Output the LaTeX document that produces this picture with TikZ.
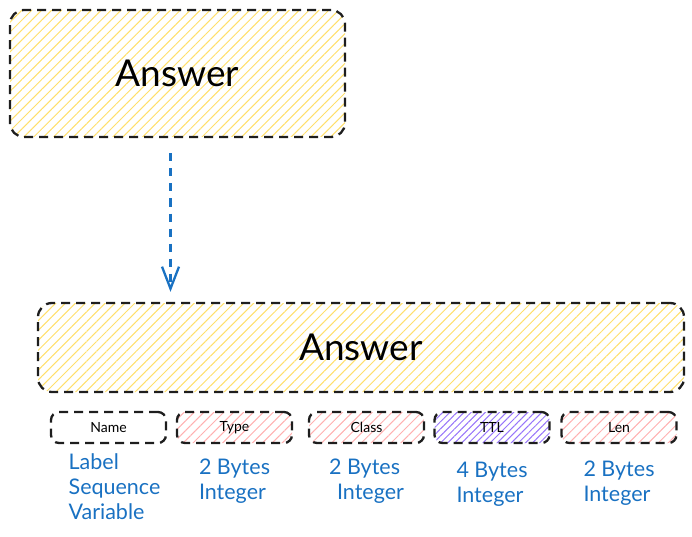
\documentclass[tikz,border=0pt]{standalone}
\usepackage{fontspec}
\setmainfont{Lato}
\usetikzlibrary{positioning,arrows.meta,patterns.meta}

\definecolor{ink}{HTML}{1E1E1E}
\definecolor{sky}{HTML}{1971C2}
\definecolor{sun}{HTML}{FFDF6B}
\definecolor{rose}{HTML}{FFB0B0}
\definecolor{violet}{HTML}{9775FA}

\tikzset{
  sketch/.style={draw=ink, line width=2.3pt, dash pattern=on 9pt off 6pt, rounded corners=14pt, inner sep=0pt},
  hatch/.style={pattern={Lines[angle=45,distance=7pt,line width=1pt]}, pattern color=#1},
  densehatch/.style={pattern={Lines[angle=45,distance=5pt,line width=1pt]}, pattern color=#1},
  big/.style={font=\fontsize{37}{42}\selectfont},
  field/.style={sketch, rounded corners=8pt, minimum width=115pt, minimum height=31pt, font=\fontsize{14}{16}\selectfont},
  note/.style={text=sky, align=left, inner sep=0pt, font=\fontsize{21.5}{25}\selectfont},
  flow/.style={draw=sky, line width=2.3pt, dash pattern=on 8pt off 7pt, -{Straight Barb[length=22pt,width=17pt]}},
}

\begin{document}
\begin{tikzpicture}[x=1pt,y=-1pt]
  \useasboundingbox (0,0) rectangle (692,537);

  % the record and its wire layout
  \node[sketch, hatch=sun, big, minimum width=335pt, minimum height=127pt] (top) at (177.5,73.5) {Answer};
  \node[sketch, hatch=sun, big, minimum width=646pt, minimum height=89pt] (ans) at (361,347.5) {Answer};

  \node[field] (name) at (108.5,427.5) {Name};
  \node[field, hatch=rose] (type) at (234.5,427.5) {Type};
  \node[field, hatch=rose] (class) at (366.5,427.5) {Class};
  \node[field, densehatch=violet] (ttl) at (492,427.5) {TTL};
  \node[field, hatch=rose] (len) at (619,427.5) {Len};

  % sizes
  \node[note, below=9pt of name, xshift=6pt] (namesize) {Label\\Sequence\\Variable};
  \node[note, below=15pt of type] (typesize) {2 Bytes\\Integer};
  \node[note, below=15pt of class] (classsize) {2 Bytes\\\hspace{8pt}Integer};
  \node[note, below=18pt of ttl] (ttlsize) {4 Bytes\\Integer};
  \node[note, below=17pt of len] (lensize) {2 Bytes\\Integer};

  \draw[flow, shorten <=16pt, shorten >=10pt] ([xshift=-7pt]top.south) -- ([xshift=-7pt]top.south |- ans.north);
\end{tikzpicture}
\end{document}
